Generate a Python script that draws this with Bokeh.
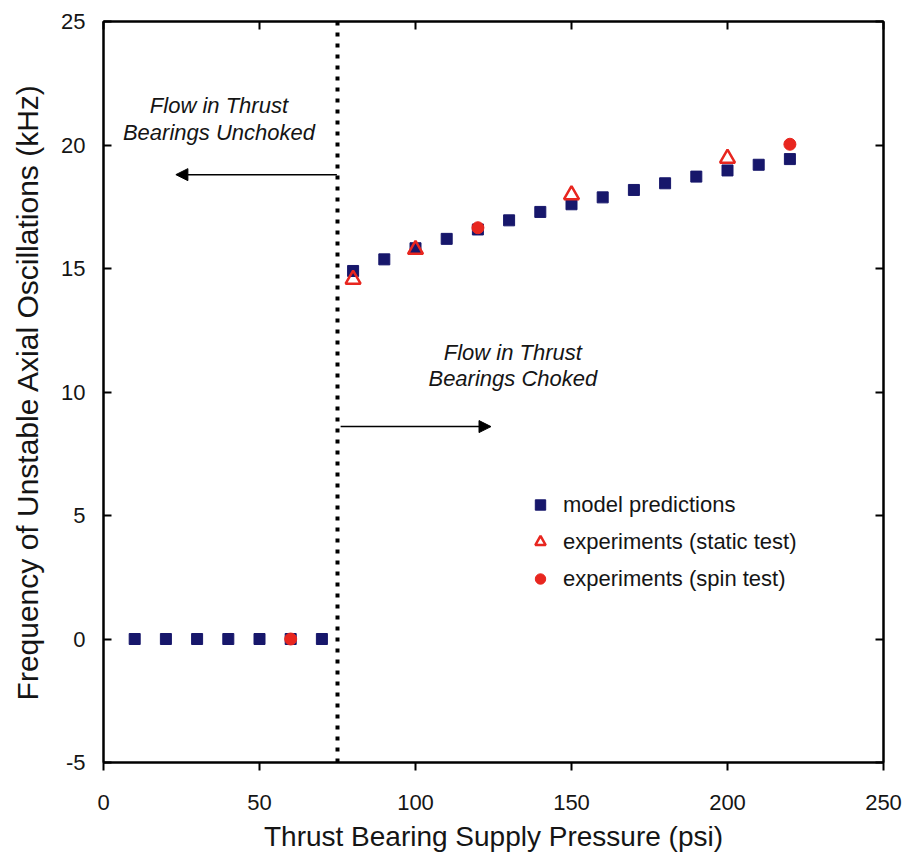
from bokeh.plotting import figure
from bokeh.models import (Range1d, LinearAxis, FixedTicker, Span, Arrow, NormalHead,
                          Legend, LegendItem, CustomJSTickFormatter)
from bokeh.core.properties import value
from bokeh.embed import file_html
from bokeh.resources import INLINE

# ---- data ----
model_x = [10, 20, 30, 40, 50, 60, 70, 80, 90, 100, 110, 120, 130, 140, 150,
           160, 170, 180, 190, 200, 210, 220]
model_y = [0, 0, 0, 0, 0, 0, 0, 14.9, 15.37, 15.82, 16.2, 16.58, 16.95, 17.29, 17.6,
           17.88, 18.18, 18.45, 18.72, 18.97, 19.2, 19.43]
static_x = [80, 100, 150, 200]
static_y = [14.56, 15.77, 17.98, 19.46]
spin_x = [60, 120, 220]
spin_y = [0, 16.65, 20.03]

x_ticks = [0, 50, 100, 150, 200, 250]
y_ticks = [-5, 0, 5, 10, 15, 20, 25]
choke_x = 75

labels = ["model predictions", "experiments (static test)", "experiments (spin test)"]
x_title = "Thrust Bearing Supply Pressure (psi)"
y_title = "Frequency of Unstable Axial Oscillations (kHz)"

left_text = ["Flow in Thrust", "Bearings Unchoked"]
left_text_x = [37, 37]
left_text_y = [21.6, 20.5]
right_text = ["Flow in Thrust", "Bearings Choked"]
right_text_x = [131.2, 131.2]
right_text_y = [11.58, 10.53]

FONT = "Liberation Sans"
NAVY = "#17176b"
RED = "#e8261f"
INK = "#151515"

p = figure(width=904, height=861, output_backend="svg", toolbar_location=None,
           x_range=Range1d(0, 250), y_range=Range1d(-5, 25),
           min_border_left=103, min_border_right=21, min_border_top=21, min_border_bottom=99,
           frame_width=780, frame_height=741)
p.background_fill_color = "white"
p.border_fill_color = "white"
p.outline_line_color = "black"
p.outline_line_width = 2
p.xgrid.visible = False
p.ygrid.visible = False

# axes
xa = p.xaxis[0]
xa.ticker = FixedTicker(ticks=x_ticks)
xa.axis_line_width = 2
xa.major_tick_line_width = 2
xa.major_tick_in = 0
xa.major_tick_out = 8
xa.minor_tick_line_color = None
xa.major_label_text_font = FONT
xa.major_label_text_font_size = "22px"
xa.major_label_text_color = INK
xa.major_label_standoff = 24
xa.axis_label = x_title
xa.axis_label_text_font = FONT
xa.axis_label_text_font_size = "28px"
xa.axis_label_text_font_style = "normal"
xa.axis_label_text_color = INK
xa.axis_label_standoff = 8

ya = p.yaxis[0]
ya.ticker = FixedTicker(ticks=y_ticks)
ya.axis_line_width = 2
ya.major_tick_line_width = 2
ya.major_tick_in = 8
ya.major_tick_out = 0
ya.minor_tick_line_color = None
ya.major_label_text_font = FONT
ya.major_label_text_font_size = "22px"
ya.major_label_text_color = INK
ya.major_label_standoff = 18
ya.major_label_overrides = {-5: "-5"}
ya.axis_label = y_title
ya.axis_label_text_font = FONT
ya.axis_label_text_font_size = "30px"
ya.axis_label_text_font_style = "normal"
ya.axis_label_text_color = INK
ya.axis_label_standoff = 14

blank = CustomJSTickFormatter(code="return '';")
top = LinearAxis(ticker=FixedTicker(ticks=x_ticks), formatter=blank,
                 major_tick_in=8, major_tick_out=0, minor_tick_line_color=None,
                 axis_line_width=2, major_tick_line_width=2, major_label_standoff=0)
right = LinearAxis(ticker=FixedTicker(ticks=y_ticks), formatter=blank,
                   major_tick_in=8, major_tick_out=0, minor_tick_line_color=None,
                   axis_line_width=2, major_tick_line_width=2, major_label_standoff=0)
p.add_layout(top, "above")
p.add_layout(right, "right")

# dotted choke line
p.add_layout(Span(location=choke_x, dimension="height", line_color="black",
                  line_width=4, line_dash="4 7"))

# arrows
p.add_layout(Arrow(x_start=74.8, y_start=18.8, x_end=23.2, y_end=18.8,
                   line_width=1.5, line_color="black",
                   end=NormalHead(size=12, fill_color="black", line_color="black")))
p.add_layout(Arrow(x_start=76, y_start=8.6, x_end=124.2, y_end=8.6,
                   line_width=1.5, line_color="black",
                   end=NormalHead(size=12, fill_color="black", line_color="black")))

# annotations
p.text(x=left_text_x, y=left_text_y, text=left_text, text_font=value(FONT),
       text_font_size="22px", text_font_style="italic", text_align="center",
       text_baseline="middle", text_color=INK)
p.text(x=right_text_x, y=right_text_y, text=right_text, text_font=value(FONT),
       text_font_size="22px", text_font_style="italic", text_align="center",
       text_baseline="middle", text_color=INK)

# data
r_model = p.scatter(model_x, model_y, marker="square", size=11, fill_color=NAVY,
                    line_color=NAVY)
r_static = p.scatter(static_x, static_y, marker="triangle", size=15, fill_color="white",
                     fill_alpha=0.0, line_color=RED, line_width=2.5)
r_spin = p.scatter(spin_x, spin_y, marker="circle", size=12, fill_color=RED,
                   line_color=RED)

legend = Legend(items=[LegendItem(label=labels[0], renderers=[r_model]),
                       LegendItem(label=labels[1], renderers=[r_static]),
                       LegendItem(label=labels[2], renderers=[r_spin])],
                location=(424, 165), orientation="vertical",
                glyph_width=26, glyph_height=37, label_height=37, spacing=0,
                padding=0, margin=0, label_standoff=10,
                label_text_font=FONT, label_text_font_size="22px",
                label_text_color=INK,
                background_fill_alpha=0, border_line_alpha=0)
p.add_layout(legend, "center")

open("out.html", "w").write(file_html(p, INLINE))
